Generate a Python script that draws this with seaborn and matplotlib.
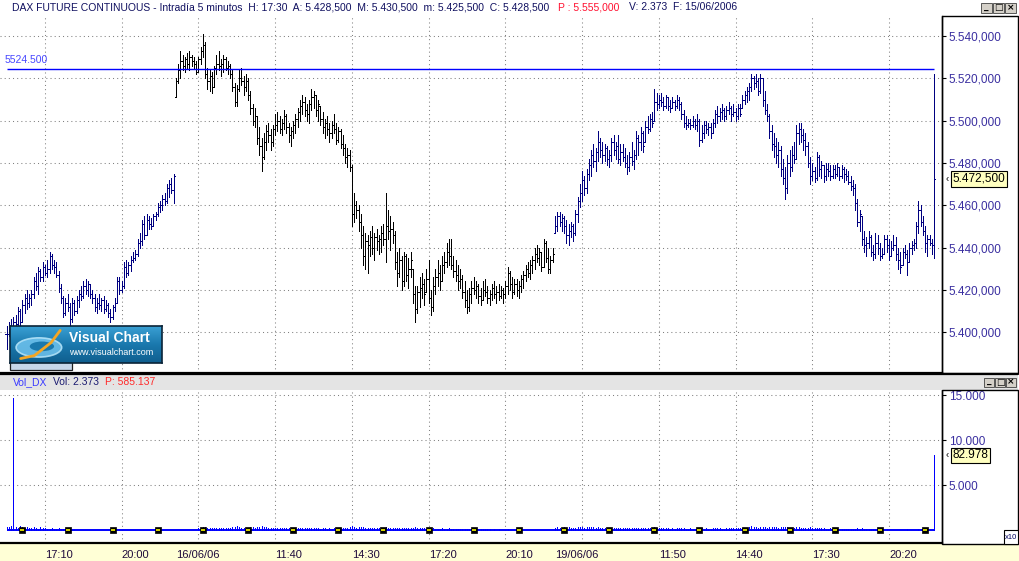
import numpy as np
import pandas as pd
import matplotlib
matplotlib.use("Agg")
import matplotlib.pyplot as plt
import matplotlib.transforms as mtransforms
from matplotlib.patches import Rectangle, Ellipse
from matplotlib.colors import LinearSegmentedColormap
from matplotlib.ticker import FuncFormatter
import seaborn as sns

# ---------------- data ----------------
day_dates = ["2006-06-15", "2006-06-16", "2006-06-19"]
day_labels = ["15/06/06", "16/06/06", "19/06/06"]
day_first_bar = ["15:45", "08:00", "08:00"]

d1_high = [5403, 5405, 5406, 5407, 5408, 5412, 5411, 5415, 5418, 5420,
           5418, 5420, 5426, 5428, 5431, 5430, 5433, 5432, 5434, 5438,
           5437, 5434, 5433, 5429, 5423, 5417, 5416, 5418, 5414, 5416,
           5415, 5417, 5420, 5422, 5424, 5425, 5424, 5423, 5420, 5418,
           5416, 5418, 5416, 5417, 5415, 5414, 5411, 5413, 5416, 5426,
           5426, 5424, 5433, 5434, 5433, 5436, 5438, 5439, 5444, 5447,
           5453, 5455, 5456, 5455, 5454, 5456, 5457, 5461, 5462, 5465,
           5466, 5470, 5472, 5473, 5475]
d1_low = [5392, 5398, 5400, 5399, 5401, 5402, 5403, 5405, 5409, 5411,
          5412, 5413, 5416, 5420, 5418, 5424, 5424, 5427, 5426, 5428,
          5430, 5428, 5426, 5419, 5414, 5407, 5408, 5410, 5403, 5405,
          5408, 5409, 5412, 5415, 5416, 5418, 5417, 5416, 5414, 5410,
          5409, 5411, 5410, 5409, 5410, 5407, 5405, 5406, 5410, 5414,
          5418, 5419, 5421, 5426, 5427, 5429, 5433, 5434, 5436, 5440,
          5441, 5444, 5446, 5449, 5449, 5450, 5453, 5455, 5457, 5458,
          5460, 5461, 5464, 5466, 5461]
d1_close = [5399, 5403, 5402, 5405, 5404, 5410, 5405, 5413, 5416, 5414,
            5416, 5418, 5424, 5422, 5429, 5426, 5431, 5428, 5430, 5436,
            5432, 5431, 5427, 5421, 5416, 5409, 5414, 5412, 5406, 5414,
            5410, 5415, 5418, 5417, 5422, 5420, 5423, 5418, 5416, 5412,
            5414, 5413, 5415, 5411, 5413, 5409, 5407, 5412, 5414, 5424,
            5420, 5422, 5431, 5428, 5432, 5434, 5435, 5437, 5442, 5443,
            5451, 5446, 5453, 5451, 5450, 5455, 5456, 5459, 5460, 5463,
            5462, 5468, 5470, 5467, 5474]
d1_vol = [3200, 2800, 4100, 147000, 3500, 2600, 3900, 3000, 2200, 3400,
          1800, 2600, 3100, 2000, 1500, 2800, 2300, 1900, 1600, 1200,
          2100, 1400, 1000, 1800, 1300, 900, 1500, 1100, 800, 1200,
          600, 300, 0, 400, 0, 0, 200, 0, 0, 0,
          0, 0, 0, 300, 0, 0, 0, 0, 0, 500,
          600, 400, 0, 0, 0, 0, 0, 0, 0, 0,
          0, 0, 0, 0, 0, 0, 0, 0, 0, 0,
          0, 200, 0, 300, 0]

d2_high = [5520, 5527, 5533, 5531, 5530, 5532, 5533, 5531, 5530, 5528,
           5530, 5535, 5541, 5537, 5525, 5524, 5523, 5526, 5531, 5533,
           5529, 5531, 5530, 5528, 5527, 5524, 5518, 5517, 5524, 5525,
           5521, 5522, 5520, 5514, 5508, 5506, 5502, 5497, 5492, 5494,
           5498, 5499, 5496, 5498, 5503, 5504, 5502, 5501, 5505, 5503,
           5499, 5497, 5500, 5503, 5506, 5510, 5512, 5511, 5508, 5510,
           5515, 5514, 5512, 5510, 5507, 5504, 5501, 5502, 5499, 5500,
           5503, 5499, 5497, 5496, 5493, 5489, 5487, 5486, 5479, 5466,
           5462, 5460, 5456, 5450, 5447, 5446, 5448, 5450, 5447, 5449,
           5446, 5450, 5451, 5466, 5458, 5455, 5452, 5448, 5438, 5440,
           5436, 5438, 5437, 5435, 5438, 5430, 5422, 5422, 5426, 5428,
           5425, 5430, 5434, 5420, 5426, 5430, 5434, 5432, 5436, 5438,
           5442, 5444, 5444, 5436, 5434, 5432, 5430, 5427, 5424, 5420,
           5421, 5424, 5426, 5424, 5423, 5421, 5424, 5425, 5422, 5420,
           5423, 5424, 5422, 5423, 5422, 5421, 5424, 5431, 5429, 5426,
           5425, 5425, 5424, 5427, 5429, 5432, 5433, 5434, 5436, 5440,
           5441, 5440, 5438, 5444, 5443, 5440, 5436, 5440]
d2_low = [5511, 5518, 5520, 5524, 5523, 5525, 5524, 5526, 5525, 5522,
          5523, 5527, 5530, 5520, 5515, 5514, 5513, 5516, 5522, 5524,
          5521, 5523, 5524, 5522, 5520, 5514, 5507, 5507, 5514, 5517,
          5512, 5514, 5510, 5503, 5498, 5497, 5489, 5484, 5476, 5482,
          5486, 5490, 5486, 5488, 5493, 5495, 5494, 5493, 5496, 5494,
          5490, 5488, 5492, 5494, 5497, 5500, 5503, 5502, 5500, 5499,
          5505, 5506, 5502, 5500, 5498, 5494, 5492, 5493, 5490, 5492,
          5494, 5489, 5490, 5487, 5484, 5480, 5478, 5476, 5450, 5452,
          5454, 5448, 5440, 5432, 5430, 5428, 5436, 5437, 5434, 5439,
          5437, 5438, 5441, 5433, 5444, 5439, 5442, 5430, 5422, 5426,
          5420, 5422, 5424, 5421, 5426, 5414, 5405, 5409, 5412, 5416,
          5413, 5419, 5414, 5408, 5410, 5418, 5422, 5420, 5424, 5428,
          5431, 5432, 5430, 5426, 5424, 5420, 5421, 5416, 5412, 5409,
          5410, 5414, 5418, 5416, 5414, 5413, 5415, 5417, 5414, 5413,
          5415, 5416, 5414, 5415, 5416, 5414, 5416, 5418, 5420, 5416,
          5418, 5417, 5416, 5419, 5421, 5424, 5426, 5425, 5428, 5430,
          5433, 5432, 5429, 5431, 5433, 5428, 5428, 5433]
d2_close = [5519, 5524, 5528, 5526, 5529, 5527, 5530, 5528, 5527, 5523,
            5529, 5533, 5536, 5522, 5519, 5521, 5516, 5525, 5527, 5526,
            5527, 5529, 5525, 5526, 5522, 5516, 5509, 5515, 5520, 5519,
            5516, 5519, 5512, 5506, 5500, 5502, 5492, 5488, 5483, 5490,
            5495, 5493, 5490, 5496, 5498, 5500, 5496, 5499, 5502, 5497,
            5493, 5495, 5498, 5501, 5504, 5507, 5509, 5505, 5503, 5508,
            5511, 5512, 5505, 5508, 5501, 5497, 5499, 5496, 5494, 5498,
            5496, 5491, 5495, 5489, 5487, 5483, 5484, 5478, 5456, 5460,
            5458, 5452, 5446, 5436, 5443, 5441, 5445, 5440, 5445, 5443,
            5444, 5447, 5444, 5450, 5448, 5449, 5446, 5433, 5428, 5434,
            5424, 5436, 5427, 5430, 5434, 5418, 5411, 5419, 5421, 5423,
            5418, 5425, 5416, 5412, 5422, 5426, 5428, 5424, 5432, 5433,
            5438, 5436, 5432, 5429, 5427, 5424, 5425, 5419, 5415, 5412,
            5418, 5421, 5420, 5422, 5417, 5415, 5420, 5419, 5416, 5418,
            5421, 5418, 5419, 5417, 5420, 5418, 5422, 5428, 5423, 5419,
            5423, 5420, 5422, 5425, 5427, 5430, 5428, 5432, 5434, 5437,
            5435, 5438, 5431, 5442, 5435, 5430, 5434, 5437]
d2_vol = [300, 200, 400, 300, 200, 100, 300, 200, 400, 300,
          1800, 2400, 3200, 2800, 2000, 2600, 1900, 2300, 1700, 2100,
          2600, 2100, 2300, 1800, 2000, 2900, 3800, 4200, 3000, 2500,
          2200, 1900, 2400, 2800, 3100, 2600, 3500, 3000, 4200, 3300,
          2800, 2400, 2600, 2000, 2300, 1800, 2100, 1900, 2500, 2200,
          1700, 2000, 2200, 1800, 2400, 2600, 1900, 2100, 1700, 2300,
          2500, 2000, 1800, 1900, 1600, 2100, 1700, 1500, 1900, 1600,
          1800, 2000, 1700, 2200, 1900, 2600, 2400, 2800, 4500, 3200,
          2600, 2800, 3000, 3300, 2700, 2400, 2200, 2000, 2600, 2100,
          1900, 2300, 2000, 3100, 2500, 2200, 1800, 2400, 2600, 2200,
          2000, 1900, 2100, 1700, 1800, 2500, 2800, 2200, 1900, 2000,
          1700, 1600, 2000, 2300, 1800, 1500, 1600, 1400, 1700, 1500,
          1600, 1800, 1500, 1400, 1200, 1300, 1100, 1400, 1200, 1500,
          1000, 1200, 900, 1100, 800, 1000, 700, 900, 600, 800,
          500, 700, 400, 600, 300, 500, 400, 600, 300, 400,
          200, 300, 0, 200, 400, 0, 300, 200, 0, 300,
          200, 0, 300, 400, 200, 0, 300, 200]

d3_high = [5455, 5457, 5457, 5456, 5455, 5453, 5451, 5452, 5451, 5458,
           5464, 5470, 5476, 5474, 5477, 5482, 5486, 5489, 5487, 5495,
           5492, 5490, 5489, 5488, 5486, 5492, 5493, 5490, 5493, 5489,
           5489, 5487, 5484, 5485, 5490, 5486, 5495, 5493, 5497, 5495,
           5500, 5502, 5503, 5504, 5515, 5513, 5512, 5513, 5511, 5512,
           5511, 5510, 5511, 5510, 5512, 5511, 5509, 5505, 5502, 5501,
           5501, 5502, 5501, 5503, 5501, 5498, 5500, 5500, 5499, 5499,
           5501, 5505, 5507, 5506, 5508, 5506, 5507, 5509, 5507, 5508,
           5506, 5508, 5508, 5512, 5514, 5516, 5518, 5522, 5521, 5522,
           5520, 5522, 5520, 5514, 5508, 5503, 5498, 5494, 5492, 5490,
           5488, 5482, 5478, 5484, 5486, 5488, 5490, 5498, 5499, 5499,
           5496, 5494, 5490, 5483, 5480, 5478, 5485, 5484, 5481, 5479,
           5480, 5480, 5479, 5479, 5479, 5480, 5478, 5479, 5478, 5477,
           5476, 5474, 5472, 5470, 5463, 5458, 5455, 5448, 5445, 5448,
           5446, 5441, 5447, 5446, 5442, 5440, 5446, 5446, 5444, 5443,
           5446, 5445, 5440, 5438, 5440, 5441, 5439, 5442, 5443, 5444,
           5452, 5462, 5460, 5455, 5450, 5446, 5446, 5444, 5522]
d3_low = [5447, 5448, 5450, 5448, 5447, 5442, 5441, 5445, 5443, 5446,
          5452, 5459, 5462, 5465, 5466, 5472, 5474, 5478, 5476, 5481,
          5483, 5480, 5481, 5479, 5478, 5481, 5484, 5482, 5480, 5479,
          5481, 5478, 5475, 5476, 5479, 5477, 5482, 5484, 5486, 5485,
          5490, 5494, 5495, 5497, 5500, 5505, 5506, 5507, 5505, 5506,
          5505, 5504, 5506, 5505, 5506, 5505, 5501, 5497, 5496, 5497,
          5496, 5497, 5496, 5495, 5488, 5490, 5492, 5494, 5493, 5492,
          5494, 5497, 5499, 5500, 5501, 5500, 5501, 5503, 5500, 5502,
          5500, 5501, 5502, 5506, 5508, 5509, 5510, 5514, 5515, 5516,
          5512, 5513, 5507, 5503, 5500, 5492, 5486, 5483, 5480, 5478,
          5474, 5470, 5463, 5466, 5474, 5476, 5480, 5482, 5489, 5490,
          5486, 5484, 5478, 5470, 5472, 5471, 5472, 5474, 5473, 5471,
          5472, 5474, 5472, 5473, 5473, 5474, 5472, 5473, 5471, 5472,
          5470, 5467, 5465, 5458, 5450, 5448, 5441, 5438, 5436, 5440,
          5436, 5434, 5435, 5437, 5434, 5435, 5437, 5438, 5434, 5436,
          5439, 5434, 5430, 5428, 5432, 5435, 5427, 5433, 5437, 5439,
          5440, 5447, 5450, 5446, 5438, 5436, 5441, 5437, 5435]
d3_close = [5450, 5455, 5452, 5454, 5450, 5446, 5448, 5450, 5447, 5456,
            5462, 5466, 5472, 5468, 5475, 5479, 5484, 5481, 5485, 5490,
            5486, 5484, 5487, 5482, 5484, 5490, 5486, 5488, 5482, 5485,
            5483, 5480, 5478, 5483, 5481, 5484, 5492, 5490, 5494, 5488,
            5497, 5496, 5501, 5499, 5509, 5508, 5510, 5509, 5507, 5511,
            5507, 5506, 5509, 5507, 5510, 5508, 5503, 5499, 5498, 5499,
            5498, 5500, 5498, 5500, 5491, 5494, 5498, 5496, 5497, 5494,
            5499, 5503, 5502, 5504, 5505, 5502, 5505, 5506, 5503, 5504,
            5502, 5506, 5503, 5510, 5512, 5514, 5516, 5520, 5518, 5519,
            5514, 5520, 5510, 5505, 5502, 5495, 5489, 5488, 5484, 5486,
            5477, 5473, 5468, 5480, 5478, 5484, 5482, 5494, 5496, 5493,
            5491, 5488, 5480, 5474, 5476, 5473, 5483, 5477, 5479, 5474,
            5477, 5476, 5474, 5477, 5475, 5478, 5474, 5477, 5475, 5474,
            5471, 5469, 5468, 5461, 5452, 5456, 5444, 5441, 5442, 5445,
            5438, 5437, 5442, 5440, 5436, 5437, 5444, 5441, 5436, 5440,
            5441, 5437, 5434, 5431, 5438, 5437, 5433, 5440, 5441, 5442,
            5450, 5458, 5452, 5448, 5442, 5444, 5442, 5441, 5472.5]
d3_vol = [2400, 3000, 2600, 2200, 2800, 2500, 3100, 2300, 2000, 2600,
          3200, 3600, 2900, 2700, 3300, 3000, 2800, 3500, 2600, 3000,
          2400, 2200, 2600, 2000, 2300, 2500, 2100, 1900, 2200, 2400,
          2000, 1800, 2100, 1900, 2300, 2000, 2600, 2200, 2400, 2100,
          2300, 2500, 2200, 2000, 3800, 2600, 2400, 2000, 1800, 2100,
          1700, 1600, 1900, 1500, 1800, 1700, 2000, 2100, 1600, 1500,
          1700, 1500, 1400, 1600, 2200, 1800, 1500, 1700, 1400, 1600,
          1800, 2000, 1700, 1900, 1600, 1500, 1700, 1800, 2000, 1900,
          2100, 1800, 1700, 2300, 2500, 2700, 3000, 4200, 3100, 2800,
          2600, 3000, 3400, 2800, 2600, 3000, 3500, 3200, 2900, 2700,
          3100, 3400, 3800, 3000, 2600, 2400, 2200, 3300, 2800, 2500,
          2300, 2200, 2600, 2800, 2100, 1900, 2300, 2000, 1800, 1700,
          1600, 1500, 1700, 1400, 1500, 1300, 1400, 1200, 1300, 1100,
          1200, 1000, 1300, 1600, 2000, 1500, 1800, 1400, 1200, 1100,
          900, 800, 1000, 700, 600, 800, 500, 600, 400, 500,
          400, 300, 500, 200, 400, 300, 600, 400, 300, 200,
          500, 800, 600, 400, 300, 200, 300, 200, 82978]

ref_level = 5524.5
price_ticks = [5400, 5420, 5440, 5460, 5480, 5500, 5520, 5540]
vol_ticks = [5000, 10000, 15000]
vol_scale = 10          # volume axis shown "x10"
grid_first, grid_step = 17, 34   # one time gridline every 34 bars
marker_first, marker_step = 7, 20

header_main = ("DAX FUTURE CONTINUOUS - Intradía 5 minutos  H: 17:30  A: 5.428,500  "
               "M: 5.430,500  m: 5.425,500  C: 5.428,500")
header_p = "P : 5.555,000"
header_v = "V: 2.373  F: 15/06/2006"
vol_head = ["Vol_DX", "Vol: 2.373", "P: 585.137"]

# ---------------- build table ----------------
highs = [d1_high, d2_high, d3_high]
lows = [d1_low, d2_low, d3_low]
closes = [d1_close, d2_close, d3_close]
vols = [d1_vol, d2_vol, d3_vol]
frames = []
for k in range(3):
    n = len(highs[k])
    t = pd.date_range(f"{day_dates[k]} {day_first_bar[k]}", periods=n, freq="5min")
    frames.append(pd.DataFrame({"day": k, "time": t, "high": highs[k], "low": lows[k],
                                "close": closes[k], "vol": vols[k]}))
df = pd.concat(frames, ignore_index=True)
df["idx"] = np.arange(len(df))
df["bar_in_day"] = df.groupby("day").cumcount()
df["open"] = df["close"].shift(1).fillna(df["close"])
df["open"] = df["open"].clip(df["low"], df["high"])

# ---------------- style ----------------
sns.set_style("white")
plt.rcParams["font.family"] = ["Liberation Sans", "DejaVu Sans"]

W, H = 1020, 561
fig = plt.figure(figsize=(W / 100, H / 100), dpi=100)
fig.patch.set_facecolor("white")


def fbox(x0, y0, x1, y1):
    return [x0 / W, 1 - y1 / H, (x1 - x0) / W, (y1 - y0) / H]


def prect(x0, y0, x1, y1, **kw):
    r = Rectangle((x0 / W, 1 - y1 / H), (x1 - x0) / W, (y1 - y0) / H,
                  transform=fig.transFigure, **kw)
    fig.add_artist(r)
    return r


def ptext(x, y, s, **kw):
    kw.setdefault("va", "center")
    return fig.text(x / W, 1 - y / H, s, **kw)


def pline(x0, y0, x1, y1, **kw):
    fig.add_artist(plt.Line2D([x0 / W, x1 / W], [1 - y0 / H, 1 - y1 / H],
                              transform=fig.transFigure, **kw))


# background bands
prect(0, 544, W, H, facecolor="#ffffd6", edgecolor="none", zorder=-2)
prect(0, 375, 1018, 390, facecolor="#e4e4e4", edgecolor="none", zorder=1)

ax = fig.add_axes(fbox(0, 16, 942, 373))
axv = fig.add_axes(fbox(0, 390, 942, 543))

grid_kw = dict(color="#808080", lw=0.75, ls=(0, (1, 3)))
day_colors = ["#000080", "#000000", "#000080"]


def price_fmt(v, pos=None):
    s = f"{v:,.3f}"
    return s.replace(",", "X").replace(".", ",").replace("X", ".")


def vol_fmt(v, pos=None):
    return f"{v:,.0f}".replace(",", ".")


# ---------------- price panel ----------------
bar_lw = 0.7
tick_len = 0.55
for k, g in df.groupby("day"):
    c = day_colors[k]
    ax.vlines(g["idx"], g["low"], g["high"], colors=c, lw=bar_lw, antialiased=False, zorder=3)
    ax.hlines(g["close"], g["idx"], g["idx"] + tick_len, colors=c, lw=bar_lw, antialiased=False, zorder=3)
    ax.hlines(g["open"], g["idx"] - tick_len, g["idx"], colors=c, lw=bar_lw, antialiased=False, zorder=3)

ax.hlines(ref_level, df["idx"].min(), df["idx"].max(), colors="#0000ff", lw=1.0, zorder=4)
ax.annotate(f"{ref_level:.3f}", xy=(5 / 942, ref_level), xycoords=("axes fraction", "data"),
            xytext=(0, 2.5), textcoords="offset points", color="#4848ff", fontsize=7.5,
            ha="left", va="bottom")

xmin, xmax = -2.94, 414.5
sel = df.iloc[grid_first::grid_step]
grid_pos = sel["idx"].values
grid_lab = [("" if b < 15 else t.strftime("%H:%M")) for t, b in zip(sel["time"], sel["bar_in_day"])]
date_rows = df[(df["bar_in_day"] == 0) & (df["day"] > 0)]
date_pos = date_rows["idx"].values
date_lab = [day_labels[d] for d in date_rows["day"]]

ax.set_xlim(xmin, xmax)
ax.set_ylim(5380.7, 5549.5)
ax.set_yticks(price_ticks)
ax.yaxis.tick_right()
ax.yaxis.set_major_formatter(FuncFormatter(price_fmt))
ax.tick_params(axis="y", direction="out", length=3, width=0.8, pad=2,
               labelsize=8.5, color="black", labelcolor="#3a2fa0")
ax.set_xticks(grid_pos)
ax.tick_params(axis="x", length=0, labelbottom=False)
ax.grid(True, **grid_kw)
for s in ("top", "left"):
    ax.spines[s].set_visible(False)
ax.spines["right"].set_color("black")
ax.spines["right"].set_linewidth(1.0)
ax.spines["bottom"].set_color("black")
ax.spines["bottom"].set_linewidth(1.6)

last_close = df["close"].iloc[-1]
tr = mtransforms.blended_transform_factory(ax.transAxes, ax.transData)
ax.text(1.0115, last_close, price_fmt(last_close), transform=tr, fontsize=8.5, color="black",
        ha="left", va="center", clip_on=False,
        bbox=dict(boxstyle="square,pad=0.15", fc="#ffffc0", ec="black", lw=0.8))
ax.text(1.0035, last_close, "‹", transform=tr, fontsize=7, color="black", ha="left",
        va="center", clip_on=False)

# ---------------- volume panel ----------------
axv.vlines(df["idx"], 0, df["vol"] / vol_scale, colors="#0000ff", lw=0.7, antialiased=False, zorder=3)
axv.hlines(0, df["idx"].min(), df["idx"].max(), colors="#0000ff", lw=1.4, zorder=3)
marks = df.iloc[marker_first::marker_step]
sns.scatterplot(x=marks["idx"].values, y=np.zeros(len(marks)), marker="s", s=22, color="black",
                edgecolor="black", linewidth=0.5, ax=axv, legend=False, zorder=5)
axv.plot(marks["idx"].values, np.zeros(len(marks)), ls="none", marker="_", ms=3.5, mew=1.2,
         mec="#ffff00", zorder=6)

axv.set_xlim(xmin, xmax)
axv.set_ylim(-1444, 15556)
axv.set_yticks(vol_ticks)
axv.yaxis.tick_right()
axv.yaxis.set_major_formatter(FuncFormatter(vol_fmt))
axv.tick_params(axis="y", direction="out", length=3, width=0.8, pad=2,
                labelsize=8.5, color="black", labelcolor="#3a2fa0")
axv.set_xticks(grid_pos, labels=grid_lab)
axv.set_xticks(date_pos, labels=date_lab, minor=True)
axv.tick_params(axis="x", which="major", direction="out", length=4, width=0.8, pad=0.8,
                labelsize=8, color="black", labelcolor="#1e0a3c")
axv.tick_params(axis="x", which="minor", direction="out", length=6.5, width=0.8, pad=-1.7,
                labelsize=8, color="black", labelcolor="#1e0a3c")
for t in axv.get_xticklabels(which="both"):
    t.set_ha("left")
axv.grid(True, which="major", **grid_kw)
axv.spines["top"].set_visible(False)
axv.spines["left"].set_visible(False)
axv.spines["right"].set_color("black")
axv.spines["right"].set_linewidth(1.0)
axv.spines["bottom"].set_color("black")
axv.spines["bottom"].set_linewidth(1.6)

vlast = df["vol"].iloc[-1]
trv = mtransforms.blended_transform_factory(axv.transAxes, axv.transData)
axv.text(1.0115, vlast / vol_scale, vol_fmt(vlast), transform=trv, fontsize=8.5, color="black",
         ha="left", va="center", clip_on=False,
         bbox=dict(boxstyle="square,pad=0.15", fc="#ffffc0", ec="black", lw=0.8))
axv.text(1.0035, vlast / vol_scale, "‹", transform=trv, fontsize=7, color="black", ha="left",
         va="center", clip_on=False)

# ---------------- frames / chrome ----------------
pline(0, 373.8, 1018, 373.8, color="black", lw=1.6, zorder=2)
prect(942, 16, 1018, 373, facecolor="none", edgecolor="black", lw=1.0, zorder=2)
prect(942, 390, 1018, 543.5, facecolor="none", edgecolor="black", lw=1.0, zorder=2)
prect(1004, 530, 1018, 544, facecolor="white", edgecolor="black", lw=0.8, zorder=3)
ptext(1011, 537.5, "x10", fontsize=5.5, color="#000060", ha="center", zorder=4)


def buttons(x0, y0, size):
    for i, g in enumerate(["_", "□", "×"]):
        xa = x0 + i * (size + 1)
        prect(xa, y0, xa + size, y0 + size - 1, facecolor="#d4d0c8", edgecolor="#404040", lw=0.6, zorder=3)
        ptext(xa + size / 2, y0 + size / 2 - 1, g, fontsize=6.5, color="black", ha="center",
              fontweight="bold", family=["DejaVu Sans"], zorder=4)


buttons(981, 3, 11)
buttons(984, 378, 10)

# header texts
renderer = fig.canvas.get_renderer()
x = 12
for s, c in [(header_main, "#101060"), (header_p, "#ff1030"), (header_v, "#101060")]:
    t = ptext(x, 7.5, s, fontsize=7.5, color=c, ha="left")
    bb = t.get_window_extent(renderer)
    x = bb.x1 + 9
x = 13
for s, c in zip(vol_head, ["#3a3aff", "#1a1a70", "#ff2a2a"]):
    t = ptext(x, 382, s, fontsize=7.5, color=c, ha="left")
    bb = t.get_window_extent(renderer)
    x = bb.x1 + 6

# ---------------- logo ----------------
prect(10, 355, 72, 370, facecolor="#c6d6ea", edgecolor="#202020", lw=0.9, zorder=5)
axl = fig.add_axes(fbox(10, 326, 162, 363))
axl.set_zorder(6)
cm = LinearSegmentedColormap.from_list("vc", ["#3aa0d4", "#1a78ad", "#105f8f"])
axl.imshow(np.linspace(0, 1, 64).reshape(-1, 1), aspect="auto", cmap=cm, extent=(0, 1, 0, 1))
axl.set_xlim(0, 1)
axl.set_ylim(0, 1)
axl.set_xticks([])
axl.set_yticks([])
for s in axl.spines.values():
    s.set_color("#0a2438")
    s.set_linewidth(1.2)
axl.add_patch(Ellipse((0.19, 0.42), 0.30, 0.52, fc="#6fc3ee", ec="#b8e6fa", lw=1.2, alpha=0.85))
axl.add_patch(Ellipse((0.21, 0.45), 0.16, 0.26, fc="#1a78ad", ec="none"))
axl.plot([0.07, 0.16, 0.27, 0.33], [0.12, 0.2, 0.55, 0.88], color="#f5a623", lw=2.0,
         solid_capstyle="round")
axl.text(0.39, 0.68, "Visual Chart", color="white", fontsize=10, fontweight="bold",
         ha="left", va="center")
axl.text(0.39, 0.28, "www.visualchart.com", color="white", fontsize=6.5, ha="left", va="center")

fig.savefig("out.png", dpi=100, facecolor="white")
